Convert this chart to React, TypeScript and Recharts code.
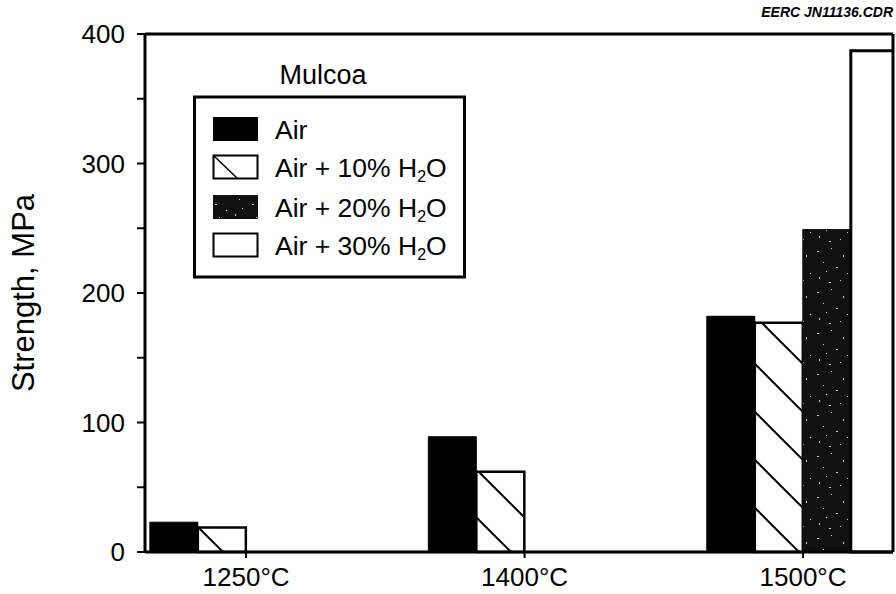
import React from 'react';
import { BarChart, Bar, XAxis, YAxis, Legend, ReferenceLine } from 'recharts';

const categories = ['1250°C', '1400°C', '1500°C'];
const airValues = [23, 89, 182];
const h2o10Values = [19, 62, 177];
const h2o20Values = [null, null, 249];
const h2o30Values = [null, null, 387];
const yTicks = [0, 50, 100, 150, 200, 250, 300, 350, 400];
const yMax = 400;
const xDomain: [number, number] = [-0.363, 2.323];

const data = categories.map((name, i) => ({
  x: i,
  name,
  air: airValues[i],
  h2o10: h2o10Values[i],
  h2o20: h2o20Values[i],
  h2o30: h2o30Values[i],
}));

const FONT = '"Liberation Sans", Arial, Helvetica, sans-serif';

// sparse light flecks on the dark 20% fill (irregular tile)
const specks = [
  [3, 5, 2, 1], [17, 2, 1, 1], [29, 9, 1, 2], [9, 16, 1, 1],
  [22, 21, 2, 1], [33, 27, 1, 1], [5, 31, 1, 2], [15, 36, 2, 1],
  [26, 34, 1, 1], [12, 25, 1, 1],
];

const SpeckleFill = ({ id }: { id: string }) => (
  <pattern id={id} width={37} height={41} patternUnits="userSpaceOnUse">
    <rect width={37} height={41} fill="#111" />
    {specks.map(([x, y, w, h], i) => (
      <rect key={i} x={x} y={y} width={w} height={h} fill="#d0d0d0" />
    ))}
  </pattern>
);

const Sub = ({ n }: { n: string }) => (
  <>
    <tspan fontSize={16} dy={5}>{n}</tspan>
    <tspan dy={-5}>O</tspan>
  </>
);

const legendRows = [
  { key: 'air', label: 'Air', sub: '' },
  { key: 'h2o10', label: 'Air + 10% H', sub: '2' },
  { key: 'h2o20', label: 'Air + 20% H', sub: '2' },
  { key: 'h2o30', label: 'Air + 30% H', sub: '2' },
];

const LegendBox = () => {
  const rowY = [57, 95, 135, 173];
  return (
    <svg width={280} height={225} style={{ display: 'block', fontFamily: FONT }}>
      <defs>
        <SpeckleFill id="speckLegend" />
      </defs>
      <text x={130} y={24} textAnchor="middle" fontSize={27} fill="#000">Mulcoa</text>
      <rect x={1.5} y={37} width={270} height={180} fill="#fff" stroke="#000" strokeWidth={3} />
      {legendRows.map((r, i) => {
        const y = rowY[i];
        let swatch;
        if (r.key === 'air') swatch = <rect x={20} y={y} width={45} height={24} fill="#000" />;
        else if (r.key === 'h2o10')
          swatch = (
            <g>
              <rect x={20.5} y={y + 0.5} width={44} height={23} fill="#fff" stroke="#000" strokeWidth={2} />
              <line x1={21} y1={y + 1} x2={44} y2={y + 23} stroke="#000" strokeWidth={1.5} />
            </g>
          );
        else if (r.key === 'h2o20') swatch = <rect x={20} y={y} width={45} height={24} fill="url(#speckLegend)" />;
        else swatch = <rect x={20.5} y={y + 0.5} width={44} height={23} fill="#fff" stroke="#000" strokeWidth={2} />;
        return (
          <g key={r.key}>
            {swatch}
            <text x={82} y={y + 22} fontSize={26.5} fill="#000">
              {r.label}
              {r.sub && <Sub n={r.sub} />}
            </text>
          </g>
        );
      })}
    </svg>
  );
};

export default function App() {
  return (
    <div style={{ position: 'absolute', left: 0, top: 0, width: 896, height: 594, background: '#fff', fontFamily: FONT }}>
      <BarChart
        width={896}
        height={594}
        data={data}
        margin={{ top: 34, right: 3, bottom: 0, left: 0 }}
        barGap={0}
        barSize={48}
        style={{ fontFamily: FONT }}
      >
        <defs>
          <pattern id="hatch" x={0} y={41} width={48} height={48} patternUnits="userSpaceOnUse">
            <rect width={48} height={48} fill="#fff" />
            <line x1={0} y1={0} x2={48} y2={48} stroke="#000" strokeWidth={2} />
            <line x1={-4} y1={44} x2={4} y2={52} stroke="#000" strokeWidth={2} />
            <line x1={44} y1={-4} x2={52} y2={4} stroke="#000" strokeWidth={2} />
          </pattern>
          <SpeckleFill id="speck" />
        </defs>
        <text x={893} y={17} textAnchor="end" fontSize={14} fontWeight="bold" fontStyle="italic" fill="#000">
          EERC JN11136.CDR
        </text>
        <XAxis
          type="number"
          dataKey="x"
          domain={xDomain}
          allowDataOverflow
          ticks={[0, 1, 2]}
          tickFormatter={(v: number) => categories[v] ?? ''}
          height={42}
          tickSize={6}
          tickMargin={10}
          tick={{ fontSize: 26, fill: '#000' }}
          tickLine={{ stroke: '#000', strokeWidth: 2 }}
          axisLine={{ stroke: '#000', strokeWidth: 3 }}
        />
        <YAxis
          domain={[0, yMax]}
          ticks={yTicks}
          interval={0}
          tickFormatter={(v: number) => (v % 100 === 0 ? String(v) : '')}
          width={145}
          tickSize={8}
          tickMargin={12}
          tick={{ fontSize: 26, fill: '#000' }}
          tickLine={{ stroke: '#000', strokeWidth: 2 }}
          axisLine={{ stroke: '#000', strokeWidth: 3 }}
          label={{
            value: 'Strength, MPa',
            angle: -90,
            position: 'insideLeft',
            offset: 23,
            style: { textAnchor: 'middle', fontSize: 31, fill: '#000' },
          }}
        />
        <ReferenceLine y={yMax} stroke="#000" strokeWidth={3} ifOverflow="visible" />
        <ReferenceLine x={xDomain[1]} stroke="#000" strokeWidth={3} ifOverflow="visible" />
        <Legend
          layout="horizontal"
          verticalAlign="middle"
          align="center"
          content={() => <LegendBox />}
          wrapperStyle={{ left: 193, top: 60, width: 280, height: 225 }}
        />
        <Bar dataKey="air" name="Air" fill="#000" stroke="#000" strokeWidth={1} isAnimationActive={false} />
        <Bar dataKey="h2o10" name="Air + 10% H2O" fill="url(#hatch)" stroke="#000" strokeWidth={2.5} isAnimationActive={false} />
        <Bar dataKey="h2o20" name="Air + 20% H2O" fill="url(#speck)" stroke="#111" strokeWidth={1} isAnimationActive={false} />
        <Bar dataKey="h2o30" name="Air + 30% H2O" fill="#fff" stroke="#000" strokeWidth={3} isAnimationActive={false} />
      </BarChart>
    </div>
  );
}
